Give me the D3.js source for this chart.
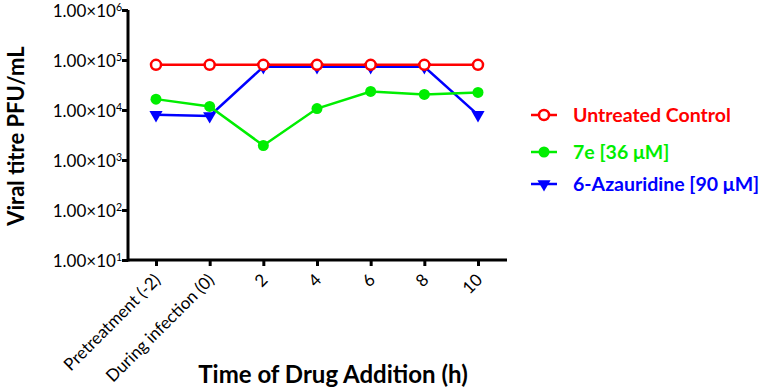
<!DOCTYPE html>
<html><head><meta charset="utf-8">
<script src="https://cdn.jsdelivr.net/npm/d3@7"></script>
<style>body{margin:0;background:#fff}svg{display:block}</style>
</head><body>
<svg id="c" width="765" height="392"></svg>
<script>
const categories = ["Pretreatment (-2)", "During infection (0)", "2", "4", "6", "8", "10"];
const untreated = [80000, 80000, 80000, 80000, 80000, 80000, 80000];
const cmp7e = [16500, 11800, 1950, 10700, 23500, 20500, 22500];
const azauridine = [8000, 7600, 73000, 73000, 73000, 73000, 8000];
const yTickExps = [1, 2, 3, 4, 5, 6];
const seriesNames = ["Untreated Control", "7e [36 \u03bcM]", "6-Azauridine [90 \u03bcM]"];

const svg = d3.select("#c");
const font = "Lato, 'Open Sans', sans-serif";
const x = d3.scalePoint().domain(categories).range([156, 478]);
const y = d3.scaleLog().domain([10, 1e6]).range([260, 10]);

// axes
const xa = svg.append("g").attr("transform", "translate(0,260)")
  .call(d3.axisBottom(x).tickSize(6).tickSizeOuter(0));
xa.select(".domain").attr("d", "M128,0H507").attr("stroke-width", 3);
xa.selectAll(".tick line").attr("stroke-width", 3);
xa.selectAll(".tick text").attr("font-family", font).attr("font-size", 17).attr("fill", "#000")
  .attr("text-anchor", "end").attr("dy", null).attr("y", 0)
  .attr("transform", "translate(5,21) rotate(-45)");

const ya = svg.append("g").attr("transform", "translate(128,0)")
  .call(d3.axisLeft(y).tickValues(yTickExps.map(e => Math.pow(10, e))).tickSize(6).tickFormat(""));
ya.select(".domain").attr("d", "M0,10V261.5").attr("stroke-width", 3);
ya.selectAll(".tick line").attr("stroke-width", 3);
ya.selectAll(".tick").each(function(d) {
  const t = d3.select(this).append("text").attr("x", -6).attr("y", 6)
    .attr("text-anchor", "end").attr("font-family", font).attr("font-size", 17).attr("fill", "#000");
  t.append("tspan").text("1.00\u00d710");
  t.append("tspan").attr("font-size", 10.5).attr("dy", -6).text(Math.round(Math.log10(d)));
});

// titles
svg.append("text").attr("transform", "translate(24,136) rotate(-90)").attr("text-anchor", "middle")
  .attr("font-family", font).attr("font-weight", "bold").attr("font-size", 22).text("Viral titre PFU/mL");
svg.append("text").attr("x", 333).attr("y", 383).attr("text-anchor", "middle")
  .attr("font-family", font).attr("font-weight", "bold").attr("font-size", 24).text("Time of Drug Addition (h)");

const line = d3.line().x((d, i) => x(categories[i])).y(d => y(d));
const colors = ["#ff0000", "#00ee00", "#0000ff"];
const data = [untreated, cmp7e, azauridine];
const tri = d3.symbol().type(d3.symbolTriangle).size(75);

function marker(g, k, cx, cy) {
  if (k === 0) g.append("circle").attr("cx", cx).attr("cy", cy).attr("r", 5).attr("fill", "#fff").attr("stroke", colors[0]).attr("stroke-width", 2.5);
  else if (k === 1) g.append("circle").attr("cx", cx).attr("cy", cy).attr("r", 5.5).attr("fill", colors[1]);
  else g.append("path").attr("d", tri).attr("transform", `translate(${cx},${cy}) rotate(180)`).attr("fill", colors[2]);
}

[2, 1, 0].forEach(k => {
  const g = svg.append("g");
  g.append("path").attr("d", line(data[k])).attr("fill", "none").attr("stroke", colors[k]).attr("stroke-width", 2.5);
  data[k].forEach((v, i) => marker(g, k, x(categories[i]), y(v)));
});

// legend
const ly = [115, 152, 184];
seriesNames.forEach((n, k) => {
  const g = svg.append("g");
  g.append("line").attr("x1", 531).attr("x2", 557).attr("y1", ly[k]).attr("y2", ly[k]).attr("stroke", colors[k]).attr("stroke-width", 2.5);
  marker(g, k, 544, ly[k]);
  g.append("text").attr("x", 573).attr("y", ly[k] + 7).attr("font-family", font).attr("font-weight", "bold")
    .attr("font-size", 19.5).attr("fill", colors[k]).text(n);
});
</script>
</body></html>
